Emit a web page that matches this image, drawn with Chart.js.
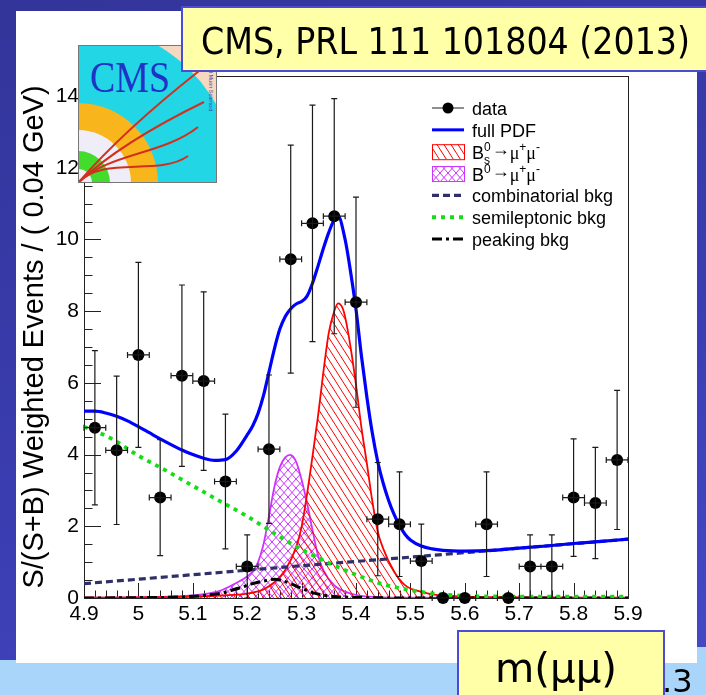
<!DOCTYPE html>
<html>
<head>
<meta charset="utf-8">
<title>Bs and B0 to mu mu weighted mass distribution</title>
<script src="https://cdn.jsdelivr.net/npm/chart.js@4.4.1/dist/chart.umd.min.js"></script>
<style>
  html, body { margin: 0; padding: 0; }
  body {
    width: 706px; height: 695px; overflow: hidden; position: relative;
    background: linear-gradient(160deg, #33359a 0%, #3a3db0 55%, #4549c6 100%);
  }
  #band  { position: absolute; left: 0; top: 660px; width: 706px; height: 35px; background: #a9d5fb; }
  #bandR { position: absolute; left: 697px; top: 647px; width: 9px; height: 48px; background: #a9d5fb; }
  #panel { position: absolute; left: 16px; top: 11px; width: 681px; height: 652px; background: #ffffff; }
  #plot  { position: absolute; left: 16px; top: 11px; }
  #deco  { position: absolute; left: 0; top: 0; }
</style>
</head>
<body>
<div id="band"></div>
<div id="bandR"></div>
<div id="panel"></div>
<canvas id="plot" width="681" height="652"></canvas>

<svg id="deco" xmlns="http://www.w3.org/2000/svg" width="706" height="695">
  <defs>
    <clipPath id="logoClip"><rect x="0" y="0" width="139" height="138"/></clipPath>
  </defs>
  <!-- experiment logo -->
  <g transform="translate(78,45)">
    <g clip-path="url(#logoClip)">
      <rect x="0" y="0" width="139" height="138" fill="#f6d8c0"/>
      <circle cx="0" cy="138" r="159" fill="#22d6e6"/>
      <circle cx="0" cy="138" r="80" fill="#f8b51c"/>
      <circle cx="0" cy="138" r="53" fill="#efedf7"/>
      <circle cx="0" cy="138" r="32" fill="#43dc2c"/>
      <circle cx="0" cy="138" r="14" fill="#efedf7"/>
      <g fill="none" stroke="#d2301f" stroke-width="2">
        <path d="M0 138 Q 45 86 121 26"/>
        <path d="M0 138 Q 42 98 126 57"/>
        <path d="M0 138 C 30 108, 85 110, 120 82"/>
        <path d="M0 138 C 25 110, 80 132, 110 111"/>
      </g>
      <text x="12" y="47" font-family="'Liberation Serif', serif" font-size="44" fill="#1f33c6"
            textLength="80" lengthAdjust="spacingAndGlyphs">CMS</text>
      <text transform="translate(131,6) rotate(90)" font-family="'Liberation Sans', sans-serif"
            font-size="5.5" fill="#3a46b0">Compact Muon Solenoid</text>
    </g>
    <rect x="0.5" y="0.5" width="138" height="137" fill="none" stroke="#777" stroke-width="1"/>
  </g>

  <!-- reference box -->
  <rect x="182" y="7" width="540" height="64" fill="#ffffa8" stroke="#4b4bd6" stroke-width="2"/>
  <text x="201" y="54" font-family="'DejaVu Sans Condensed', 'DejaVu Sans', sans-serif" font-size="37"
        fill="#000" textLength="489" lengthAdjust="spacingAndGlyphs">CMS, PRL 111 101804 (2013)</text>

  <!-- slide page number -->
  <text x="662" y="692" font-family="'DejaVu Sans', sans-serif" font-size="32" fill="#000">.3</text>

  <!-- axis variable box -->
  <rect x="458" y="631" width="206" height="80" fill="#ffffa8" stroke="#4b4bd6" stroke-width="2"/>
  <text x="495" y="682" font-family="'DejaVu Sans', sans-serif" font-size="40" fill="#000"
        textLength="122" lengthAdjust="spacingAndGlyphs">m(μμ)</text>
</svg>

<script>
// ---- data: S/(S+B)-weighted events per 0.04 GeV bin ----
const binWidth = 0.04;
const binCenters = [4.92, 4.96, 5.00, 5.04, 5.08, 5.12, 5.16, 5.20, 5.24, 5.28, 5.32, 5.36, 5.40,
                    5.44, 5.48, 5.52, 5.56, 5.60, 5.64, 5.68, 5.72, 5.76, 5.80, 5.84, 5.88];
const weightedEvents = [4.75, 4.12, 6.78, 2.80, 6.20, 6.05, 3.25, 0.88, 4.15, 9.45, 10.45, 10.65, 8.25,
                        2.20, 2.06, 1.03, 0.00, 0.00, 2.06, 0.00, 0.88, 0.88, 2.80, 2.65, 3.85];
const weightErr = [2.15, 2.07, 2.58, 1.62, 2.53, 2.49, 1.88, 0.88, 2.07, 3.18, 3.30, 3.28, 2.93,
                   1.58, 1.46, 1.03, 0.00, 0.00, 1.46, 0.00, 0.88, 0.88, 1.64, 1.55, 1.94];

// ---- fit projections ----
const fullX = [4.90, 4.92, 4.94, 4.96, 4.98, 5.00, 5.02, 5.04, 5.06, 5.08, 5.10, 5.12, 5.14, 5.16, 5.18,
               5.20, 5.21, 5.22, 5.23, 5.24, 5.25, 5.26, 5.27, 5.28, 5.29, 5.30, 5.31, 5.32, 5.33, 5.34,
               5.35, 5.36, 5.367, 5.38, 5.39, 5.40, 5.41, 5.42, 5.43, 5.44, 5.45, 5.46, 5.47, 5.48, 5.49,
               5.50, 5.52, 5.54, 5.56, 5.60, 5.65, 5.70, 5.75, 5.80, 5.85, 5.90];
const fullY = [5.21, 5.21, 5.16, 5.07, 4.94, 4.78, 4.61, 4.44, 4.28, 4.13, 4.00, 3.90, 3.84, 3.86, 4.10,
               4.55, 4.80, 5.15, 5.65, 6.30, 6.95, 7.50, 7.85, 8.07, 8.20, 8.27, 8.42, 8.78, 9.25, 9.75,
               10.20, 10.55, 10.65, 10.00, 9.10, 8.05, 6.75, 5.60, 4.60, 3.80, 3.20, 2.72, 2.33, 2.02, 1.78,
               1.62, 1.45, 1.37, 1.33, 1.31, 1.33, 1.39, 1.45, 1.52, 1.58, 1.64];

const bsX = [4.90, 5.00, 5.10, 5.15, 5.20, 5.23, 5.25, 5.27, 5.29, 5.30, 5.31, 5.32, 5.33, 5.34, 5.35,
             5.36, 5.367, 5.375, 5.38, 5.39, 5.40, 5.41, 5.42, 5.43, 5.44, 5.45, 5.47, 5.49, 5.52, 5.55,
             5.60, 5.70, 5.90];
const bsY = [0.01, 0.02, 0.04, 0.07, 0.12, 0.24, 0.44, 0.78, 1.42, 1.99, 2.90, 3.95, 5.05, 6.30, 7.40,
             8.00, 8.22, 8.10, 7.84, 7.00, 5.95, 4.75, 3.75, 2.70, 1.85, 1.38, 0.74, 0.36, 0.17, 0.08,
             0.04, 0.02, 0.01];

const b0X = [4.90, 5.00, 5.10, 5.15, 5.18, 5.20, 5.21, 5.22, 5.23, 5.24, 5.25, 5.26, 5.27, 5.279, 5.29,
             5.30, 5.31, 5.32, 5.33, 5.34, 5.36, 5.38, 5.41, 5.45, 5.50, 5.60, 5.90];
const b0Y = [0.01, 0.02, 0.07, 0.20, 0.42, 0.60, 0.74, 1.00, 1.50, 2.28, 3.10, 3.65, 3.92, 3.99, 3.80,
             3.30, 2.65, 1.90, 1.20, 0.78, 0.35, 0.18, 0.06, 0.02, 0.01, 0.01, 0.00];

const combX = [4.90, 5.10, 5.30, 5.50, 5.70, 5.90];
const combY = [0.40, 0.65, 0.90, 1.14, 1.39, 1.64];

const semiX = [4.90, 4.95, 5.00, 5.05, 5.10, 5.15, 5.20, 5.25, 5.30, 5.35, 5.40, 5.45, 5.50, 5.55,
               5.60, 5.70, 5.80, 5.90];
const semiY = [4.78, 4.45, 3.97, 3.56, 3.13, 2.70, 2.28, 1.80, 1.35, 0.98, 0.65, 0.38, 0.22, 0.11,
               0.06, 0.04, 0.04, 0.04];

const peakX = [4.90, 5.00, 5.08, 5.12, 5.15, 5.17, 5.19, 5.21, 5.23, 5.25, 5.26, 5.28, 5.30, 5.32,
               5.34, 5.37, 5.42, 5.50, 5.90];
const peakY = [0.00, 0.01, 0.03, 0.07, 0.13, 0.21, 0.30, 0.40, 0.47, 0.52, 0.50, 0.40, 0.27, 0.15,
               0.08, 0.03, 0.01, 0.00, 0.00];

// ---- axes ----
const xTickValues = [4.9, 5.0, 5.1, 5.2, 5.3, 5.4, 5.5, 5.6, 5.7, 5.8, 5.9];
const xTickLabels = ['4.9', '5', '5.1', '5.2', '5.3', '5.4', '5.5', '5.6', '5.7', '5.8', '5.9'];
const yTickValues = [0, 2, 4, 6, 8, 10, 12, 14];
const yTickLabels = ['0', '2', '4', '6', '8', '10', '12', '14'];
const yTitle = 'S/(S+B) Weighted Events / ( 0.04 GeV)';

const FONT = '"Liberation Sans", Arial, Helvetica, sans-serif';
const SERIF = '"Liberation Serif", "Times New Roman", serif';

const COL = {
  data: '#000000', full: '#0000ff', bs: '#ff0000', b0: '#cc33ff',
  comb: '#303068', semi: '#13dd13', peak: '#000000'
};
const DASH = { comb: [7, 4], semi: [4, 5], peak: [10, 4, 3, 4] };

// hatched fills: "\\\" lines, optionally crossed with "///"
function hatch(color, w, h, cross) {
  const c = document.createElement('canvas');
  c.width = w; c.height = h;
  const g = c.getContext('2d');
  g.strokeStyle = color; g.lineWidth = 1;
  g.beginPath();
  for (const o of [-w, 0, w]) {
    g.moveTo(o, 0); g.lineTo(o + w, h);
    if (cross) { g.moveTo(o + w, 0); g.lineTo(o, h); }
  }
  g.stroke();
  return g.createPattern(c, 'repeat');
}
const bsHatch = hatch(COL.bs, 7, 11, false);
const b0Hatch = hatch(COL.b0, 8, 9, true);

const pts = (xs, ys) => xs.map((x, i) => ({ x, y: ys[i] }));
const curve = (extra) => Object.assign({
  pointRadius: 0, pointHoverRadius: 0, fill: false,
  cubicInterpolationMode: 'monotone', borderCapStyle: 'butt'
}, extra);

// frame, inward ticks, error bars and the legend
const rootStyle = {
  id: 'rootStyle',
  beforeDatasetsDraw(chart) {
    const { ctx, chartArea: a, scales: { x, y } } = chart;
    ctx.save();
    ctx.strokeStyle = '#222'; ctx.lineWidth = 1;
    ctx.beginPath();
    for (let k = 0; k * 0.5 <= y.max; k++) {
      const py = Math.round(y.getPixelForValue(k * 0.5)) + 0.5;
      const len = k % 4 === 0 ? 17 : 8.5;
      ctx.moveTo(a.left, py); ctx.lineTo(a.left + len, py);
    }
    for (let k = 0; k <= 50; k++) {
      const px = Math.round(x.getPixelForValue(x.min + k * 0.02)) + 0.5;
      const len = k % 5 === 0 ? 15 : 7.5;
      ctx.moveTo(px, a.bottom); ctx.lineTo(px, a.bottom - len);
    }
    ctx.stroke();
    ctx.strokeRect(Math.round(a.left) + 0.5, Math.round(a.top) + 0.5,
                   Math.round(a.right - a.left), Math.round(a.bottom - a.top));
    ctx.restore();
  },
  afterDatasetsDraw(chart) {
    const { ctx, scales: { x, y } } = chart;
    ctx.save();
    ctx.strokeStyle = '#1a1a1a'; ctx.lineWidth = 1.2;
    ctx.beginPath();
    binCenters.forEach((c, i) => {
      const v = weightedEvents[i], e = weightErr[i];
      const px = x.getPixelForValue(c), py = y.getPixelForValue(v);
      const xl = x.getPixelForValue(c - binWidth / 2), xr = x.getPixelForValue(c + binWidth / 2);
      ctx.moveTo(xl, py); ctx.lineTo(xr, py);
      ctx.moveTo(xl, py - 3); ctx.lineTo(xl, py + 3);
      ctx.moveTo(xr, py - 3); ctx.lineTo(xr, py + 3);
      if (e > 0) {
        const yt = y.getPixelForValue(v + e), yb = y.getPixelForValue(Math.max(0, v - e));
        ctx.moveTo(px, yt); ctx.lineTo(px, yb);
        ctx.moveTo(px - 3, yt); ctx.lineTo(px + 3, yt);
        ctx.moveTo(px - 3, yb); ctx.lineTo(px + 3, yb);
      }
    });
    ctx.stroke();
    ctx.restore();
  },
  afterDraw(chart) {
    const { ctx, chartArea: a } = chart;
    const x0 = a.left + 348, x1 = x0 + 32, tx = x0 + 40;
    const rowY = (i) => a.top + 32 + i * 21.85;
    ctx.save();
    ctx.textBaseline = 'alphabetic';
    ctx.fillStyle = '#000';

    const base = (i) => rowY(i) + 7;
    const label = (txt, i) => { ctx.font = `18px ${FONT}`; ctx.fillText(txt, tx, base(i)); };
    const rich = (parts, i) => {
      let cx = tx; const cy = base(i);
      for (const p of parts) {
        ctx.font = `${p.size}px ${p.fam || FONT}`;
        if (p.sup !== undefined) {
          ctx.fillText(p.sup, cx, cy - 8);
          if (p.sub) ctx.fillText(p.sub, cx, cy + 5);
          cx += Math.max(ctx.measureText(p.sup).width, p.sub ? ctx.measureText(p.sub).width : 0) + 1;
        } else {
          ctx.fillText(p.t, cx, cy + (p.dy || 0));
          cx += ctx.measureText(p.t).width;
        }
      }
    };
    const lineSym = (i, color, width, dash) => {
      ctx.save();
      ctx.strokeStyle = color; ctx.lineWidth = width; ctx.setLineDash(dash || []);
      ctx.beginPath(); ctx.moveTo(x0, rowY(i)); ctx.lineTo(x1, rowY(i)); ctx.stroke();
      ctx.restore();
    };
    const boxSym = (i, color, pattern) => {
      const h = 15, top = rowY(i) - h / 2;
      ctx.save();
      ctx.fillStyle = pattern; ctx.fillRect(x0, top, x1 - x0 + 1, h);
      ctx.strokeStyle = color; ctx.lineWidth = 1;
      ctx.strokeRect(x0 + 0.5, top + 0.5, x1 - x0, h);
      ctx.restore();
    };
    const muPart = (sign) => [
      { t: 'μ', size: 18, fam: SERIF }, { t: sign, size: 12, dy: -8 }
    ];
    const arrow = { t: '→', size: 18, dy: -4 };

    // data
    ctx.save();
    ctx.strokeStyle = '#222'; ctx.lineWidth = 1.2;
    ctx.beginPath();
    ctx.moveTo(x0, rowY(0)); ctx.lineTo(x1, rowY(0));
    ctx.moveTo((x0 + x1) / 2, rowY(0) - 4); ctx.lineTo((x0 + x1) / 2, rowY(0) + 4);
    ctx.stroke();
    ctx.beginPath(); ctx.arc((x0 + x1) / 2, rowY(0), 5.5, 0, Math.PI * 2);
    ctx.fillStyle = COL.data; ctx.fill();
    ctx.restore();
    label('data', 0);

    lineSym(1, COL.full, 3);
    label('full PDF', 1);

    boxSym(2, COL.bs, bsHatch);
    rich([{ t: 'B', size: 18 }, { sup: '0', sub: 's', size: 12 }, arrow,
          ...muPart('+'), ...muPart('-')], 2);

    boxSym(3, COL.b0, b0Hatch);
    rich([{ t: 'B', size: 18 }, { sup: '0', size: 12 }, arrow,
          ...muPart('+'), ...muPart('-')], 3);

    lineSym(4, COL.comb, 3.2, DASH.comb);
    label('combinatorial bkg', 4);
    lineSym(5, COL.semi, 3.8, DASH.semi);
    label('semileptonic bkg', 5);
    lineSym(6, COL.peak, 3, DASH.peak);
    label('peaking bkg', 6);
    ctx.restore();
  }
};

new Chart(document.getElementById('plot'), {
  type: 'line',
  data: {
    datasets: [
      { label: 'data', data: pts(binCenters, weightedEvents), showLine: false,
        pointRadius: 6, pointHoverRadius: 6, pointBackgroundColor: COL.data,
        pointBorderColor: COL.data, pointBorderWidth: 0, clip: false },
      curve({ label: 'full PDF', data: pts(fullX, fullY), borderColor: COL.full, borderWidth: 3.2 }),
      curve({ label: 'semileptonic bkg', data: pts(semiX, semiY), borderColor: COL.semi,
              borderWidth: 3.8, borderDash: DASH.semi }),
      curve({ label: 'combinatorial bkg', data: pts(combX, combY), borderColor: COL.comb,
              borderWidth: 3.2, borderDash: DASH.comb }),
      curve({ label: 'peaking bkg', data: pts(peakX, peakY), borderColor: COL.peak,
              borderWidth: 3, borderDash: DASH.peak }),
      curve({ label: 'Bs0 -> mu+ mu-', data: pts(bsX, bsY), borderColor: COL.bs, borderWidth: 1.8,
              backgroundColor: bsHatch, fill: 'origin' }),
      curve({ label: 'B0 -> mu+ mu-', data: pts(b0X, b0Y), borderColor: COL.b0, borderWidth: 1.8,
              backgroundColor: b0Hatch, fill: 'origin' })
    ]
  },
  options: {
    responsive: false,
    devicePixelRatio: 1,
    animation: false,
    events: [],
    layout: { padding: { left: 0, top: 65, right: 69, bottom: 0 } },
    plugins: { legend: { display: false }, tooltip: { enabled: false } },
    scales: {
      x: {
        type: 'linear', min: 4.9, max: 5.9,
        afterBuildTicks: (s) => { s.ticks = xTickValues.map((v) => ({ value: v })); },
        afterFit: (s) => { s.height = 65; },
        ticks: { callback: (v, i) => xTickLabels[i], autoSkip: false, maxRotation: 0,
                 padding: 4, color: '#000', font: { family: FONT, size: 21 } },
        grid: { display: false, drawTicks: false },
        border: { display: false }
      },
      y: {
        type: 'linear', min: 0, max: 14.56,
        afterBuildTicks: (s) => { s.ticks = yTickValues.map((v) => ({ value: v })); },
        afterFit: (s) => { s.width = 68; },
        ticks: { callback: (v, i) => yTickLabels[i], autoSkip: false,
                 padding: 5, color: '#000', font: { family: FONT, size: 21 } },
        grid: { display: false, drawTicks: false },
        border: { display: false },
        title: { display: true, text: yTitle, color: '#000',
                 font: { family: FONT, size: 29 }, padding: { top: 2, bottom: 0 } }
      }
    }
  },
  plugins: [rootStyle]
});
</script>
</body>
</html>
